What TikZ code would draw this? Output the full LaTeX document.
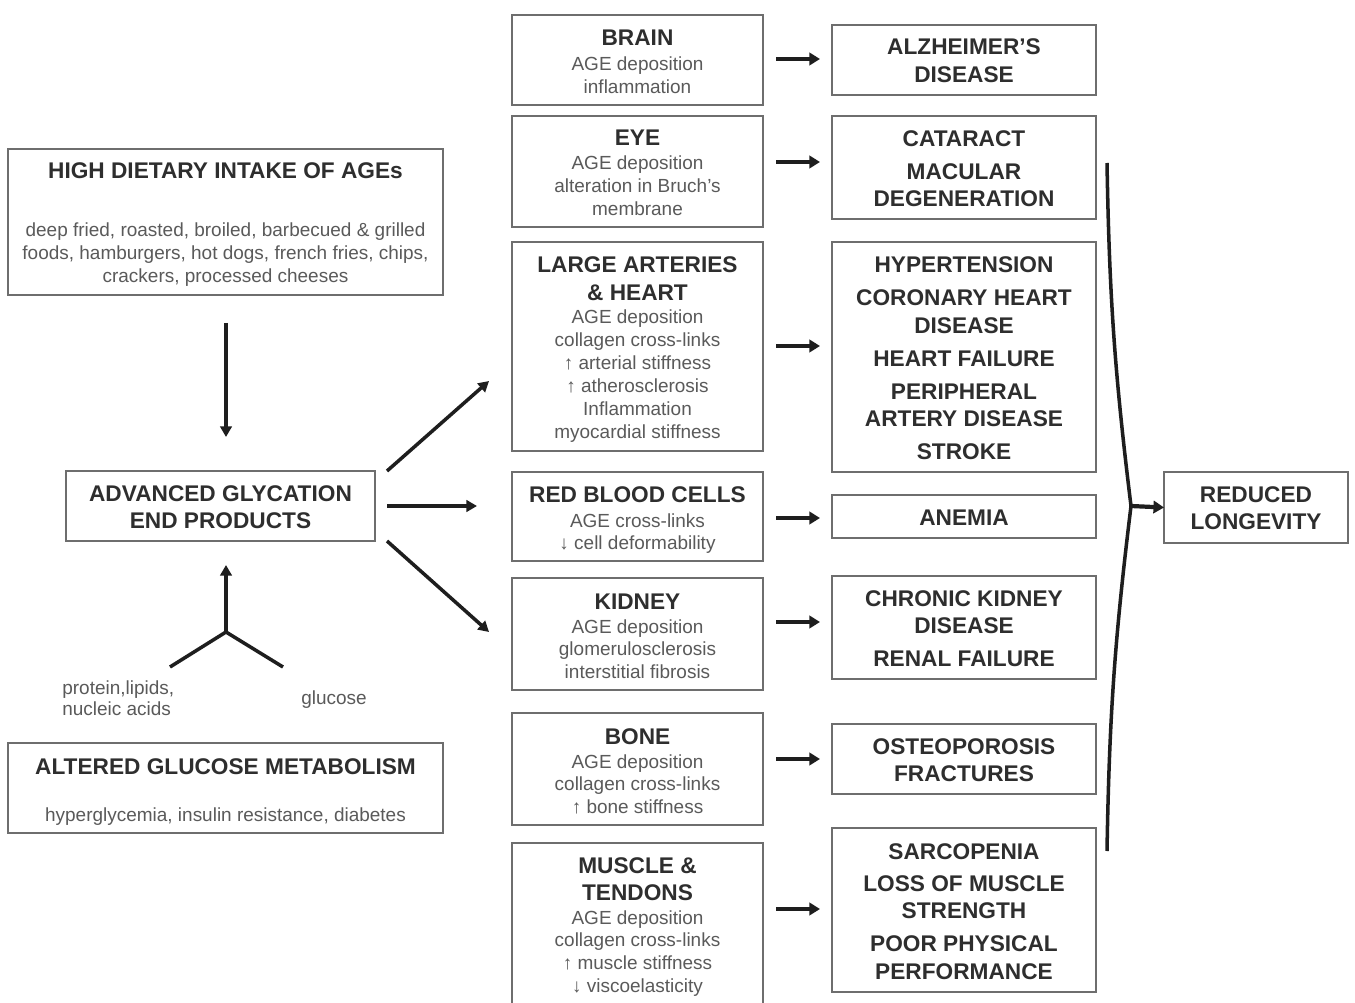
\documentclass[tikz,border=0pt]{standalone}
\usepackage{fontspec}
\setmainfont{Liberation Sans}
\usetikzlibrary{arrows.meta}
\definecolor{titlec}{HTML}{2E2E2E}
\definecolor{bodyc}{HTML}{5A5A5A}
\definecolor{boxc}{HTML}{6E6E6E}
\definecolor{arrc}{HTML}{1E1E1E}
\newcommand\mybox[5]{\node[box, minimum width={(#4-#2)*0.02cm}, minimum height={(#5-#3)*0.02cm}] (#1) at ({(#2+#4)/2},{(#3+#5)/2}) {};}
\newcommand\mlc[1]{\setlength{\tabcolsep}{0pt}\begin{tabular}[t]{c}#1\end{tabular}}
\newcommand\mll[1]{\setlength{\tabcolsep}{0pt}\begin{tabular}[t]{l}#1\end{tabular}}
\begin{document}
\begin{tikzpicture}[x=0.02cm,y=-0.02cm,
  box/.style={draw=boxc, line width=1.1pt, inner sep=0pt, outer sep=0pt, fill=white},
  ttl/.style={font=\fontsize{12.9}{15.6}\selectfont\bfseries, text=titlec, anchor=base, inner sep=0pt},
  bdy/.style={font=\fontsize{10.8}{13.04}\selectfont, text=bodyc, anchor=base, inner sep=0pt},
  arr/.style={draw=arrc, line width=2pt, -{Triangle[length=6pt,width=6.5pt]}},
  arrb/.style={draw=arrc, line width=2.4pt, -{Triangle[length=6pt,width=7pt]}},
  ln/.style={draw=arrc, line width=2pt}]
\clip (0,0) rectangle (1355,1003);
\fill[white] (0,0) rectangle (1355,1003);

% ---------- left column ----------
\mybox{diet}{8}{149}{443}{295}
\node[ttl] (dietT) at (225.5,179) {HIGH DIETARY INTAKE OF AGEs};
\node[bdy] (dietB) at (225.5,237) {\mlc{deep fried, roasted, broiled, barbecued \& grilled\\foods, hamburgers, hot dogs, french fries, chips,\\crackers, processed cheeses}};

\mybox{age}{66}{471}{375}{541}
\node[ttl] (ageT) at (220.5,501) {\mlc{ADVANCED GLYCATION\\END PRODUCTS}};

\mybox{glu}{8}{743}{443}{833}
\node[ttl] (gluT) at (225.5,774) {ALTERED GLUCOSE METABOLISM};
\node[bdy] (gluB) at (225.5,821) {hyperglycemia, insulin resistance, diabetes};

\coordinate (d1) at (226,323);
\coordinate (d2) at (226,437);
\draw[arr] (d1) -- (d2);

\coordinate (fj) at (226,632);
\coordinate (ft) at (226,565);
\coordinate (fl) at (170,667);
\coordinate (fr) at (283,667);
\draw[ln] (fl) -- (fj) -- (fr);
\draw[arr] (fj) -- (ft);
\node[bdy, anchor=base west, font=\fontsize{10.8}{12.5}\selectfont] (prot) at (62,694) {\mll{protein,lipids,\\nucleic acids}};
\node[bdy] (gluc) at (334,704) {glucose};

\coordinate (u1) at (387,471); \coordinate (u2) at (489,381);
\coordinate (m1) at (387,506); \coordinate (m2) at (477,506);
\coordinate (l1) at (387,541); \coordinate (l2) at (489,632);
\draw[arr] (u1) -- (u2);
\draw[arr] (m1) -- (m2);
\draw[arr] (l1) -- (l2);

% ---------- middle column ----------
\mybox{brain}{512}{15}{763}{105}
\node[ttl] (brainT) at (637.5,46) {BRAIN};
\node[bdy] (brainB) at (637.5,71) {\mlc{AGE deposition\\inflammation}};

\mybox{eye}{512}{116}{763}{227}
\node[ttl] (eyeT) at (637.5,146) {EYE};
\node[bdy] (eyeB) at (637.5,170) {\mlc{AGE deposition\\alteration in Bruch's\\membrane}};

\mybox{art}{512}{242}{763}{451}
\node[ttl] (artT) at (637.5,273) {\mlc{LARGE ARTERIES\\\& HEART}};
\node[bdy] (artB) at (637.5,324) {\mlc{AGE deposition\\collagen cross-links\\↑ arterial stiffness\\↑ atherosclerosis\\Inflammation\\myocardial stiffness}};

\mybox{rbc}{512}{472}{763}{561}
\node[ttl] (rbcT) at (637.5,502) {RED BLOOD CELLS};
\node[bdy] (rbcB) at (637.5,527) {\mlc{AGE cross-links\\↓ cell deformability}};

\mybox{kid}{512}{578}{763}{690}
\node[ttl] (kidT) at (637.5,609) {KIDNEY};
\node[bdy] (kidB) at (637.5,633) {\mlc{AGE deposition\\glomerulosclerosis\\interstitial fibrosis}};

\mybox{bone}{512}{713}{763}{825}
\node[ttl] (boneT) at (637.5,744) {BONE};
\node[bdy] (boneB) at (637.5,768) {\mlc{AGE deposition\\collagen cross-links\\↑ bone stiffness}};

\mybox{mus}{512}{843}{763}{1015}
\node[ttl] (musT) at (637.5,873) {\mlc{MUSCLE \&\\TENDONS}};
\node[bdy] (musB) at (637.5,924) {\mlc{AGE deposition\\collagen cross-links\\↑ muscle stiffness\\↓ viscoelasticity}};

% ---------- right column ----------
\mybox{alz}{832}{25}{1096}{95}
\node[ttl] (alzT) at (964,55) {\mlc{ALZHEIMER'S\\DISEASE}};

\mybox{cat}{832}{116}{1096}{219}
\node[ttl] (catT) at (964,147) {\mlc{CATARACT\\[0.1cm]MACULAR\\DEGENERATION}};

\mybox{hyp}{832}{242}{1096}{472}
\node[ttl] (hypT) at (964,273) {\mlc{HYPERTENSION\\[0.11cm]CORONARY HEART\\DISEASE\\[0.11cm]HEART FAILURE\\[0.11cm]PERIPHERAL\\ARTERY DISEASE\\[0.11cm]STROKE}};

\mybox{ane}{832}{495}{1096}{538}
\node[ttl] (aneT) at (964,525) {ANEMIA};

\mybox{ckd}{832}{576}{1096}{679}
\node[ttl] (ckdT) at (964,606) {\mlc{CHRONIC KIDNEY\\DISEASE\\[0.11cm]RENAL FAILURE}};

\mybox{ost}{832}{724}{1096}{794}
\node[ttl] (ostT) at (964,754) {\mlc{OSTEOPOROSIS\\FRACTURES}};

\mybox{sar}{832}{828}{1096}{992}
\node[ttl] (sarT) at (964,859) {\mlc{SARCOPENIA\\[0.1cm]LOSS OF MUSCLE\\STRENGTH\\[0.11cm]POOR PHYSICAL\\PERFORMANCE}};

% arrows middle -> right
\foreach \yy/\nm in {59/a,162/b,346/c,518/d,622/e,759/f,909/g}{
  \coordinate (s\nm) at (776,\yy);
  \coordinate (t\nm) at (820,\yy);
  \draw[arrb] (s\nm) -- (t\nm);
}

% ---------- bracket and longevity ----------
\coordinate (bt) at (1107,163);
\coordinate (bm) at (1131,506);
\coordinate (bb) at (1107,851);
\draw[ln, line width=2pt, line join=miter] (bt) to[bend right=3] (bm) to[bend right=3] (bb);

\mybox{lon}{1164}{472}{1348}{543}
\node[ttl] (lonT) at (1256,502) {\mlc{REDUCED\\LONGEVITY}};
\draw[arrb] (bm) -- (lon.west);
\end{tikzpicture}
\end{document}
